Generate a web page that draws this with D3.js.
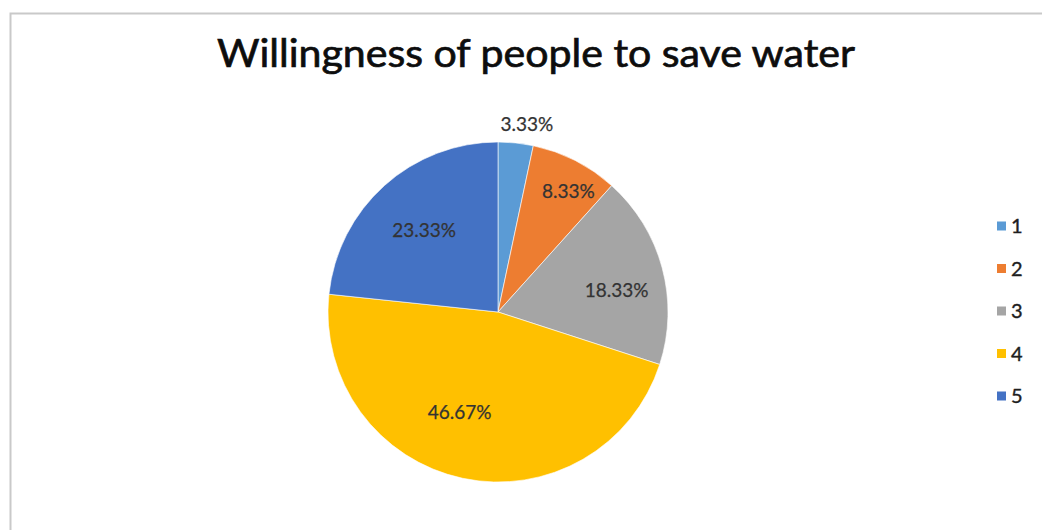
<!DOCTYPE html>
<html>
<head>
<meta charset="utf-8">
<script src="https://cdn.jsdelivr.net/npm/d3@7"></script>
<style>
  html, body { margin: 0; padding: 0; background: #fff; overflow: hidden; }
  svg { display: block; }
</style>
</head>
<body>
<svg id="chart" width="1042" height="530"></svg>
<script>
// Survey answers on a 1–5 scale and the share of respondents for each
const categories = ["1", "2", "3", "4", "5"];
const shares = [3.33, 8.33, 18.33, 46.67, 23.33];
const colors = ["#5B9BD5", "#ED7D31", "#A5A5A5", "#FFC000", "#4472C4"];
const titleText = "Willingness of people to save water";

// Label placement (best-fit style): radius as a fraction of the pie radius,
// plus a small angular shift in degrees
const labelRadius = [1.12, 0.82, 0.71, 0.63, 0.65];
const labelShift = [2.7, 3.3, 4.5, 9, 0];

const svg = d3.select("#chart");
const W = 1042, H = 530;
const FONT = "Lato, 'Open Sans', sans-serif";

// Chart frame (right and bottom edges fall outside the view)
svg.append("rect")
  .attr("x", 10.5).attr("y", 13.5)
  .attr("width", W + 20).attr("height", H + 20)
  .attr("fill", "#fff")
  .attr("stroke", "#c9c9c9")
  .attr("stroke-width", 2);

// Title, condensed to the chart's title width
svg.append("text")
  .attr("x", 536).attr("y", 67)
  .attr("text-anchor", "middle")
  .attr("font-family", FONT)
  .attr("font-size", 39)
  .attr("textLength", 638)
  .attr("lengthAdjust", "spacingAndGlyphs")
  .attr("fill", "#0d0d0d")
  .attr("stroke", "#0d0d0d").attr("stroke-width", 0.7)
  .text(titleText);

// Pie
const cx = 498, cy = 312, R = 170;
const g = svg.append("g").attr("transform", `translate(${cx},${cy})`);

const pie = d3.pie().value(d => d).sort(null);
const arcs = pie(shares);
const arc = d3.arc().innerRadius(0).outerRadius(R);

g.selectAll("path.slice")
  .data(arcs)
  .join("path")
  .attr("class", "slice")
  .attr("d", arc)
  .attr("fill", (d, i) => colors[i])
  .attr("stroke", "#fff")
  .attr("stroke-width", 0.6);

// Percentage labels
g.selectAll("text.lbl")
  .data(arcs)
  .join("text")
  .attr("class", "lbl")
  .attr("transform", (d, i) => {
    const a = (d.startAngle + d.endAngle) / 2 + labelShift[i] * Math.PI / 180;
    const r = R * labelRadius[i];
    return `translate(${r * Math.sin(a)},${-r * Math.cos(a)})`;
  })
  .attr("text-anchor", "middle")
  .attr("dy", "0.36em")
  .attr("font-family", FONT)
  .attr("font-size", 19)
  .attr("fill", "#333")
  .attr("stroke", "#333").attr("stroke-width", 0.25)
  .text((d, i) => shares[i].toFixed(2) + "%");

// Legend
const legY = d3.scalePoint().domain(categories).range([226, 396]);
const leg = svg.append("g")
  .selectAll("g")
  .data(categories)
  .join("g")
  .attr("transform", d => `translate(997,${legY(d)})`);
leg.append("rect")
  .attr("x", 0).attr("y", -4.5)
  .attr("width", 9).attr("height", 9)
  .attr("fill", (d, i) => colors[i]);
leg.append("text")
  .attr("x", 14).attr("dy", "0.36em")
  .attr("font-family", FONT)
  .attr("font-size", 20)
  .attr("fill", "#1e1e1e")
  .attr("stroke", "#1e1e1e").attr("stroke-width", 0.4)
  .text(d => d);
</script>
</body>
</html>
